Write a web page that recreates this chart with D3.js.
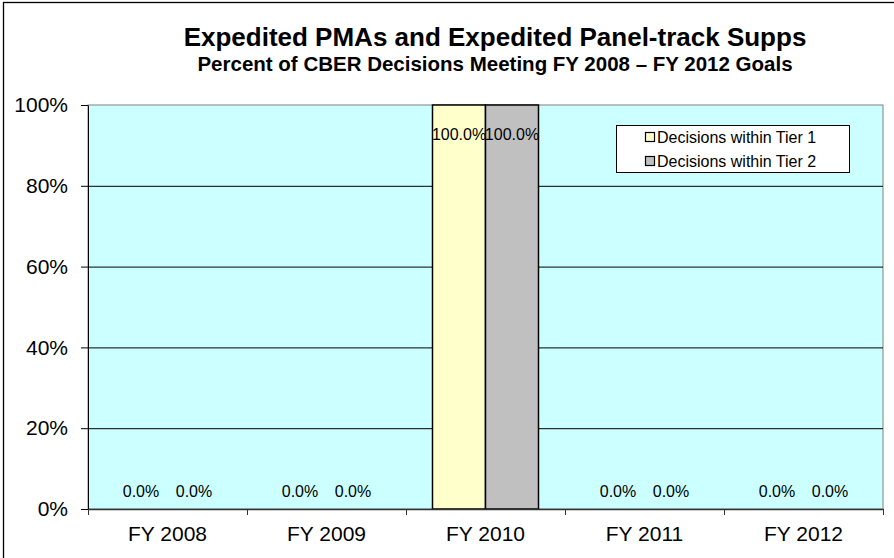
<!DOCTYPE html>
<html>
<head>
<meta charset="utf-8">
<script src="https://cdn.jsdelivr.net/npm/d3@7"></script>
<style>
  body { margin: 0; background: #fff; }
  svg { display: block; font-family: "Liberation Sans", Arial, sans-serif; }
</style>
</head>
<body>
<figure id="bar" style="margin:0"></figure>
<script>
const categories = ["FY 2008", "FY 2009", "FY 2010", "FY 2011", "FY 2012"];
const seriesNames = ["Decisions within Tier 1", "Decisions within Tier 2"];
const tier1 = [0, 0, 100, 0, 0];
const tier2 = [0, 0, 100, 0, 0];
const yTicks = [0, 20, 40, 60, 80, 100];
const colors = ["#FFFFCC", "#C0C0C0"];

const W = 894, H = 558;
const plot = { left: 88, right: 883, top: 105, bottom: 509 };

const svg = d3.select("figure#bar").append("svg")
  .attr("width", W).attr("height", H);

// outer chart border (runs off the right/bottom edges)
svg.append("rect").attr("x", 3.5).attr("y", 2.5).attr("width", 1000).attr("height", 1000)
  .attr("fill", "#fff").attr("stroke", "#000").attr("stroke-width", 1.3);

const x0 = d3.scaleBand().domain(categories).range([plot.left, plot.right])
  .paddingInner(1 / 3).paddingOuter(1 / 6);
const x1 = d3.scaleBand().domain(seriesNames).range([0, x0.bandwidth()]);
const y = d3.scaleLinear().domain([0, 100]).range([plot.bottom, plot.top]);

// plot area
svg.append("rect").attr("x", plot.left).attr("y", plot.top)
  .attr("width", plot.right - plot.left).attr("height", plot.bottom - plot.top)
  .attr("fill", "#CCFFFF").attr("stroke", "#808080").attr("stroke-width", 1);

// gridlines
svg.append("g").attr("transform", `translate(${plot.left},0)`)
  .call(d3.axisLeft(y).tickValues(yTicks.slice(1, -1)).tickSize(-(plot.right - plot.left)).tickFormat(""))
  .call(g => g.select(".domain").remove())
  .selectAll("line").attr("stroke", "#000").attr("stroke-width", 1);

// bars
const data = categories.map((c, i) => ({ cat: c, vals: [tier1[i], tier2[i]] }));
const groups = svg.append("g").selectAll("g").data(data).enter().append("g")
  .attr("transform", d => `translate(${x0(d.cat)},0)`);

groups.selectAll("rect").data(d => d.vals.map((v, k) => ({ name: seriesNames[k], v, k })))
  .enter().append("rect")
  .attr("x", d => x1(d.name))
  .attr("y", d => y(d.v))
  .attr("width", x1.bandwidth())
  .attr("height", d => plot.bottom - y(d.v))
  .attr("fill", d => colors[d.k])
  .attr("stroke", "#000").attr("stroke-width", 1.5)
  .attr("display", d => d.v > 0 ? null : "none");

groups.selectAll("text").data(d => d.vals.map((v, k) => ({ name: seriesNames[k], v, k })))
  .enter().append("text")
  .attr("x", d => x1(d.name) + x1.bandwidth() / 2)
  .attr("y", d => Math.max(y(d.v) - 12, plot.top + 35))
  .attr("text-anchor", "middle")
  .attr("font-size", "16px").attr("fill", "#000")
  .text(d => d.v.toFixed(1) + "%");

// y axis
const yAxis = svg.append("g").attr("transform", `translate(${plot.left},0)`)
  .call(d3.axisLeft(y).tickValues(yTicks).tickFormat(d => d + "%").tickSize(7).tickPadding(13).tickSizeOuter(0));
yAxis.select(".domain").attr("stroke", "#000");
yAxis.selectAll("line").attr("stroke", "#000");
yAxis.selectAll("text").attr("font-size", "21px").attr("font-family", "Liberation Sans, Arial, sans-serif")
  .attr("fill", "#000");

// x axis: ticks between categories, labels centred
const xb = d3.scaleLinear().domain([0, categories.length]).range([plot.left, plot.right]);
const xTickAxis = svg.append("g").attr("transform", `translate(0,${plot.bottom})`)
  .call(d3.axisBottom(xb).tickValues(d3.range(categories.length + 1)).tickSize(6).tickFormat("").tickSizeOuter(0));
xTickAxis.select(".domain").attr("stroke", "#333").attr("stroke-width", 1.5);
xTickAxis.selectAll("line").attr("stroke", "#333");

const xLab = svg.append("g").attr("transform", `translate(0,${plot.bottom})`)
  .call(d3.axisBottom(x0).tickSize(0).tickPadding(17));
xLab.select(".domain").remove();
xLab.selectAll("text").attr("font-size", "21px").attr("font-family", "Liberation Sans, Arial, sans-serif")
  .attr("fill", "#000");

// titles
svg.append("text").attr("x", 495).attr("y", 46).attr("text-anchor", "middle")
  .attr("font-size", "26px").attr("font-weight", "bold").text("Expedited PMAs and Expedited Panel-track Supps");
svg.append("text").attr("x", 495).attr("y", 71).attr("text-anchor", "middle")
  .attr("font-size", "20.5px").attr("font-weight", "bold").text("Percent of CBER Decisions Meeting FY 2008 \u2013 FY 2012 Goals");

// legend
const legend = svg.append("g").attr("transform", "translate(616,125)");
legend.append("rect").attr("x", 0.5).attr("y", 0.5).attr("width", 233).attr("height", 47)
  .attr("fill", "#fff").attr("stroke", "#000");
const items = legend.selectAll("g.item").data(seriesNames).enter().append("g")
  .attr("class", "item").attr("transform", (d, i) => `translate(0,${12 + i * 24})`);
items.append("rect").attr("x", 29.5).attr("y", -4.5).attr("width", 9).attr("height", 9)
  .attr("fill", (d, i) => colors[i]).attr("stroke", "#000").attr("stroke-width", 1.2);
items.append("text").attr("x", 41).attr("y", 5.5).attr("font-size", "16px").text(d => d);
</script>
</body>
</html>
